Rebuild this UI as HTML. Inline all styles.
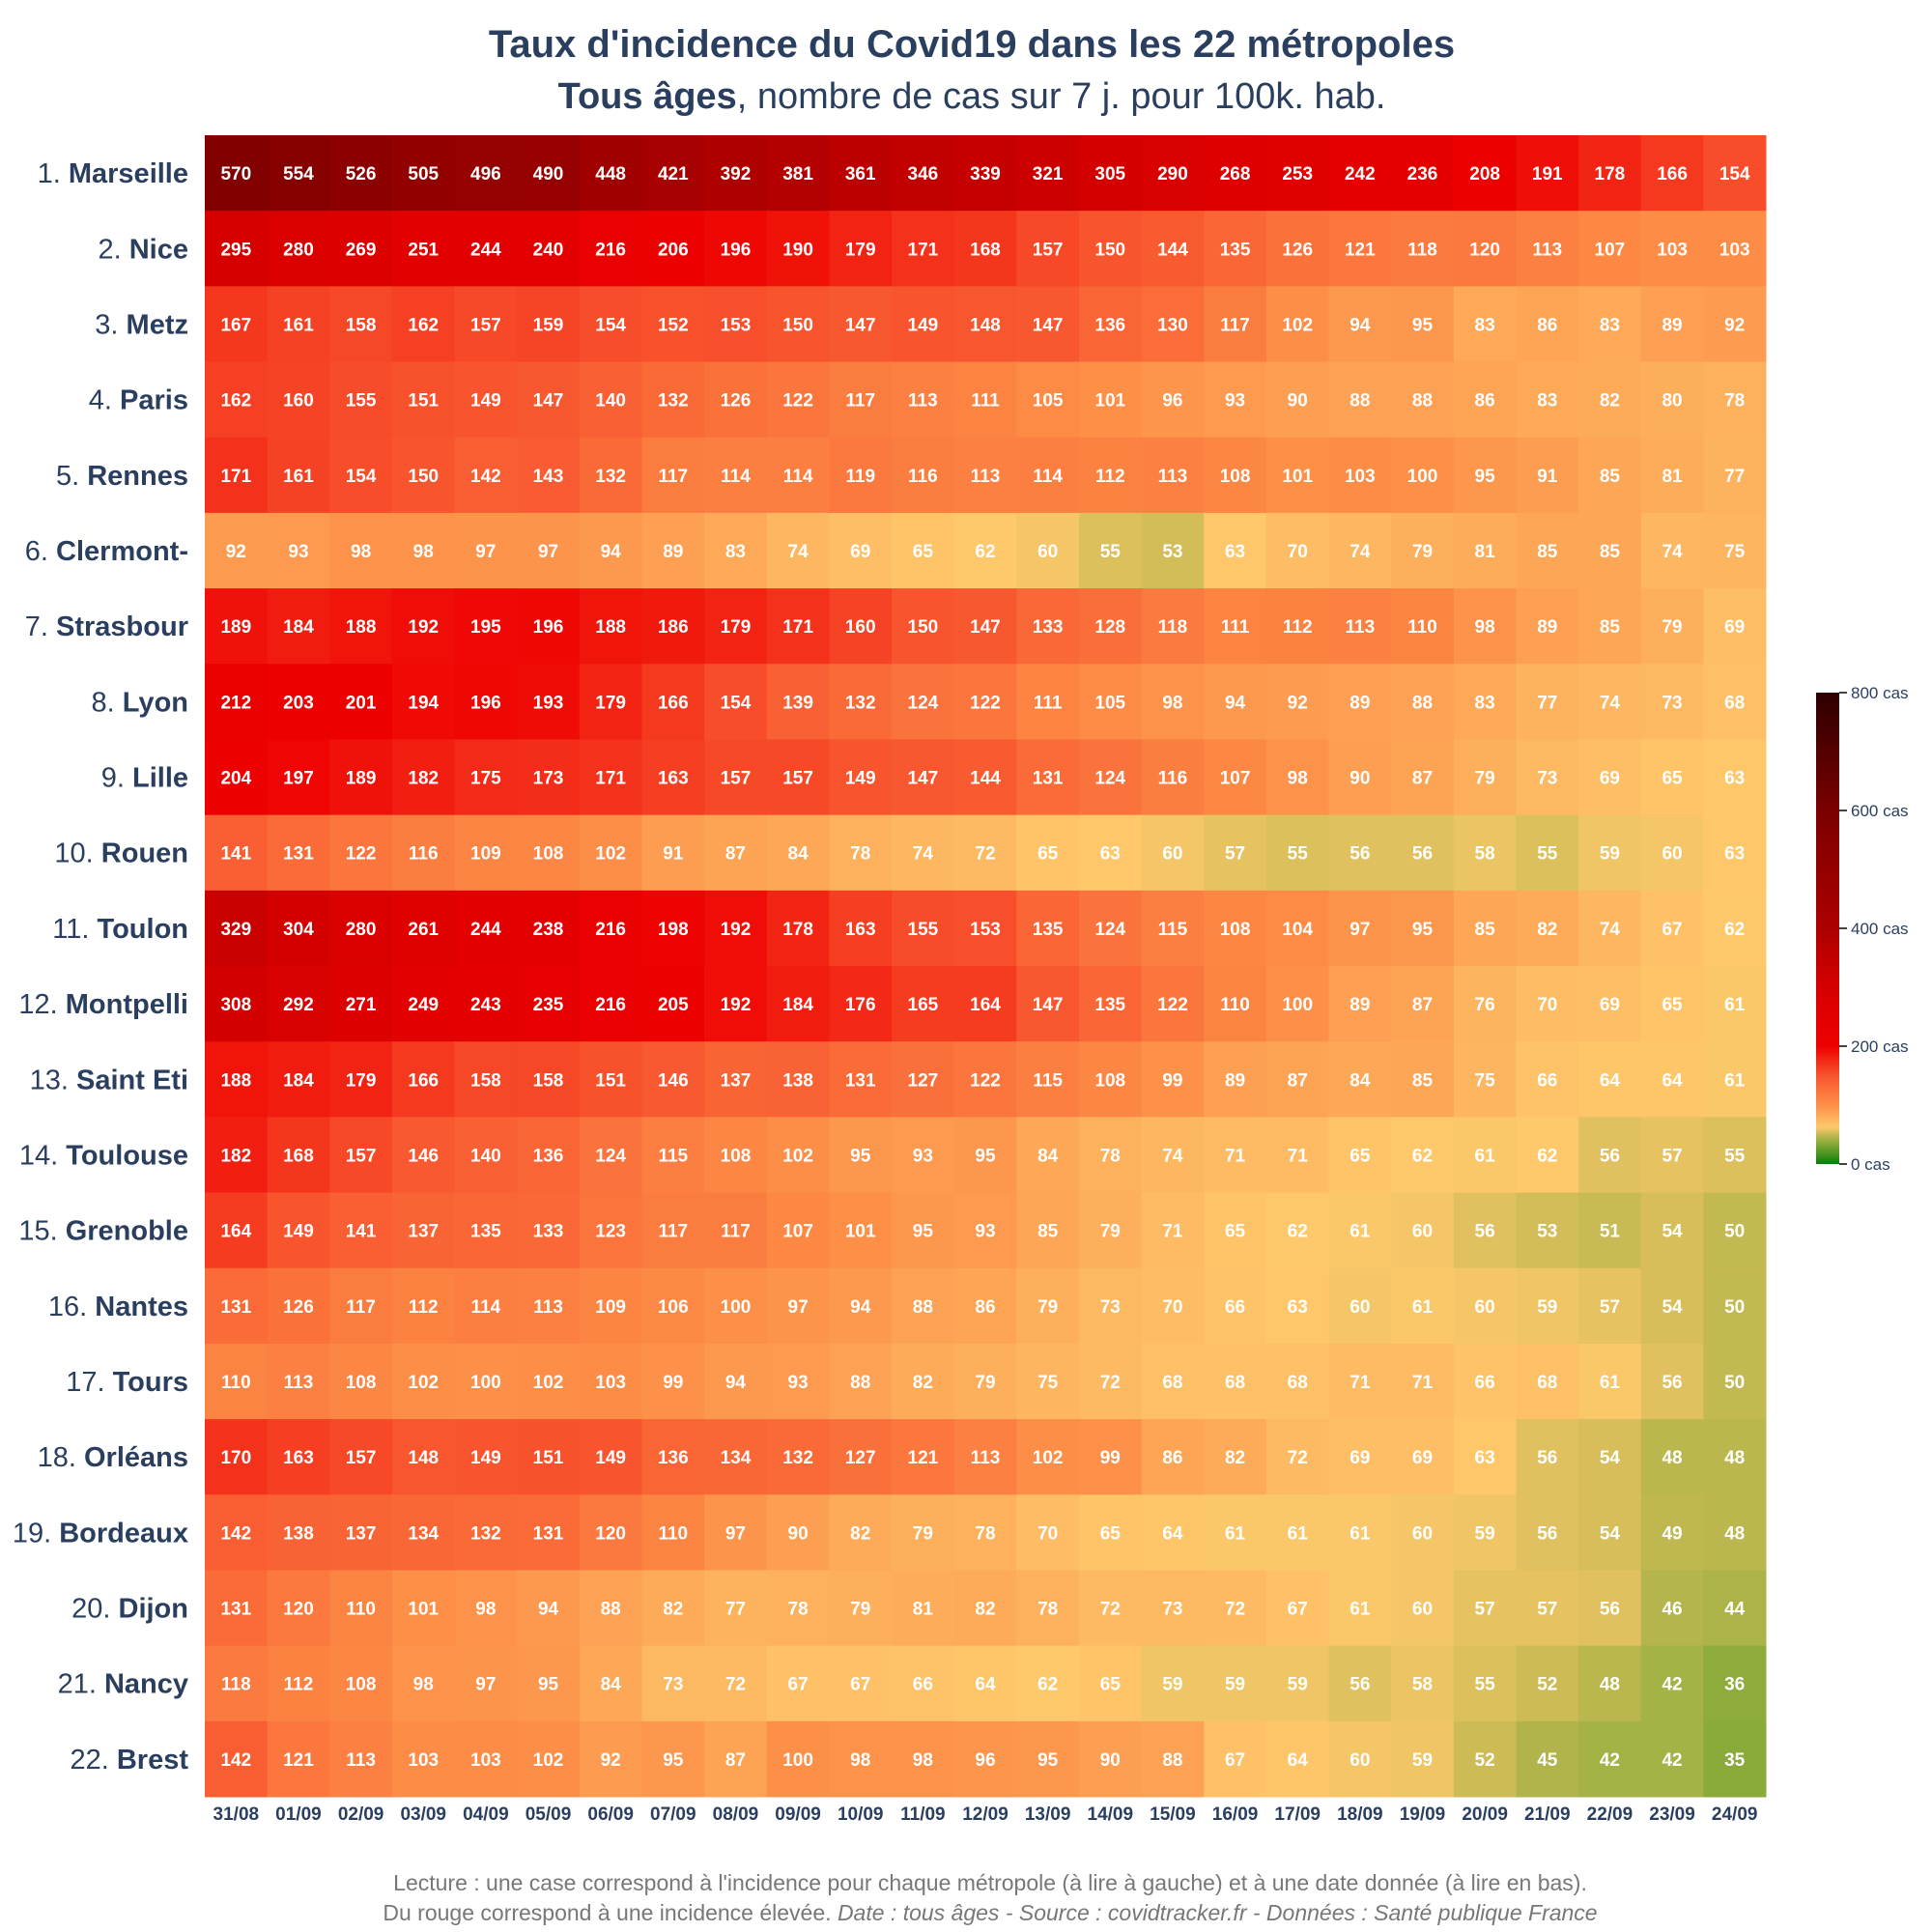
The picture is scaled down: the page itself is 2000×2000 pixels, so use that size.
<!DOCTYPE html>
<html><head><meta charset="utf-8">
<style>
html,body{margin:0;padding:0;background:#fff;}
svg{display:block;}
</style></head>
<body>
<svg id="chart" width="2000" height="2000" xmlns="http://www.w3.org/2000/svg" font-family="'Liberation Sans', sans-serif">
  <text x="1006" y="59" text-anchor="middle" font-size="40" font-weight="bold" fill="#2a3f5f">Taux d'incidence du Covid19 dans les 22 métropoles</text>
  <text x="1006" y="112" text-anchor="middle" font-size="38" fill="#2a3f5f"><tspan font-weight="bold">Tous âges</tspan>, nombre de cas sur 7 j. pour 100k. hab.</text>
  <g id="cells"></g>
  <g id="ylabels"></g>
  <g id="xlabels"></g>
  <g id="colorbar"></g>
  <text x="1025" y="1957" text-anchor="middle" font-size="23" fill="#777">Lecture : une case correspond à l'incidence pour chaque métropole (à lire à gauche) et à une date donnée (à lire en bas).</text>
  <text x="1025" y="1988" text-anchor="middle" font-size="23" fill="#777">Du rouge correspond à une incidence élevée.  <tspan font-style="italic">Date : tous âges - Source : covidtracker.fr - Données : Santé publique France</tspan></text>
</svg>
<script>
const dates = ["31/08","01/09","02/09","03/09","04/09","05/09","06/09","07/09","08/09","09/09","10/09","11/09","12/09","13/09","14/09","15/09","16/09","17/09","18/09","19/09","20/09","21/09","22/09","23/09","24/09"];
const cities = ["Marseille","Nice","Metz","Paris","Rennes","Clermont-","Strasbour","Lyon","Lille","Rouen","Toulon","Montpelli","Saint Eti","Toulouse","Grenoble","Nantes","Tours","Orléans","Bordeaux","Dijon","Nancy","Brest"];
const rMarseille=[570,554,526,505,496,490,448,421,392,381,361,346,339,321,305,290,268,253,242,236,208,191,178,166,154];
const rNice=[295,280,269,251,244,240,216,206,196,190,179,171,168,157,150,144,135,126,121,118,120,113,107,103,103];
const rMetz=[167,161,158,162,157,159,154,152,153,150,147,149,148,147,136,130,117,102,94,95,83,86,83,89,92];
const rParis=[162,160,155,151,149,147,140,132,126,122,117,113,111,105,101,96,93,90,88,88,86,83,82,80,78];
const rRennes=[171,161,154,150,142,143,132,117,114,114,119,116,113,114,112,113,108,101,103,100,95,91,85,81,77];
const rClermont=[92,93,98,98,97,97,94,89,83,74,69,65,62,60,55,53,63,70,74,79,81,85,85,74,75];
const rStrasbourg=[189,184,188,192,195,196,188,186,179,171,160,150,147,133,128,118,111,112,113,110,98,89,85,79,69];
const rLyon=[212,203,201,194,196,193,179,166,154,139,132,124,122,111,105,98,94,92,89,88,83,77,74,73,68];
const rLille=[204,197,189,182,175,173,171,163,157,157,149,147,144,131,124,116,107,98,90,87,79,73,69,65,63];
const rRouen=[141,131,122,116,109,108,102,91,87,84,78,74,72,65,63,60,57,55,56,56,58,55,59,60,63];
const rToulon=[329,304,280,261,244,238,216,198,192,178,163,155,153,135,124,115,108,104,97,95,85,82,74,67,62];
const rMontpellier=[308,292,271,249,243,235,216,205,192,184,176,165,164,147,135,122,110,100,89,87,76,70,69,65,61];
const rSaintEtienne=[188,184,179,166,158,158,151,146,137,138,131,127,122,115,108,99,89,87,84,85,75,66,64,64,61];
const rToulouse=[182,168,157,146,140,136,124,115,108,102,95,93,95,84,78,74,71,71,65,62,61,62,56,57,55];
const rGrenoble=[164,149,141,137,135,133,123,117,117,107,101,95,93,85,79,71,65,62,61,60,56,53,51,54,50];
const rNantes=[131,126,117,112,114,113,109,106,100,97,94,88,86,79,73,70,66,63,60,61,60,59,57,54,50];
const rTours=[110,113,108,102,100,102,103,99,94,93,88,82,79,75,72,68,68,68,71,71,66,68,61,56,50];
const rOrleans=[170,163,157,148,149,151,149,136,134,132,127,121,113,102,99,86,82,72,69,69,63,56,54,48,48];
const rBordeaux=[142,138,137,134,132,131,120,110,97,90,82,79,78,70,65,64,61,61,61,60,59,56,54,49,48];
const rDijon=[131,120,110,101,98,94,88,82,77,78,79,81,82,78,72,73,72,67,61,60,57,57,56,46,44];
const rNancy=[118,112,108,98,97,95,84,73,72,67,67,66,64,62,65,59,59,59,56,58,55,52,48,42,36];
const rBrest=[142,121,113,103,103,102,92,95,87,100,98,98,96,95,90,88,67,64,60,59,52,45,42,42,35];
const values=[rMarseille,rNice,rMetz,rParis,rRennes,rClermont,rStrasbourg,rLyon,rLille,rRouen,rToulon,rMontpellier,rSaintEtienne,rToulouse,rGrenoble,rNantes,rTours,rOrleans,rBordeaux,rDijon,rNancy,rBrest];
const cbTicks=[0,200,400,600,800];

const NS="http://www.w3.org/2000/svg";
const X0=212,X1=1828,Y0=140,Y1=1860;
const cw=(X1-X0)/dates.length, rh=(Y1-Y0)/cities.length;
function xPos(i){return X0+i*cw;}
function yPos(j){return Y0+j*rh;}
const stops=[[0,[10,125,10]],[35,[138,171,58]],[50,[195,185,82]],[62,[255,201,107]],[75,[253,181,96]],[100,[253,144,72]],[150,[248,84,46]],[200,[238,0,0]],[300,[214,0,0]],[400,[172,0,0]],[500,[148,0,0]],[600,[122,0,0]],[800,[44,0,0]]];
function color(v){
  if(v<=0)return 'rgb(10,125,10)';
  for(let k=1;k<stops.length;k++){
    if(v<=stops[k][0]){
      const a=stops[k-1],b=stops[k],t=(v-a[0])/(b[0]-a[0]);
      const c=a[1].map((x,i)=>Math.round(x+(b[1][i]-x)*t));
      return 'rgb('+c.join(',')+')';
    }
  }
  return 'rgb(44,0,0)';
}
const gc=document.getElementById('cells');
values.forEach((row,j)=>{
  row.forEach((v,i)=>{
    const r=document.createElementNS(NS,'rect');
    r.setAttribute('x',xPos(i));r.setAttribute('y',yPos(j));
    r.setAttribute('width',cw+0.5);r.setAttribute('height',rh+0.5);
    r.setAttribute('fill',color(v));
    
    
    gc.appendChild(r);
    const t=document.createElementNS(NS,'text');
    t.setAttribute('x',xPos(i)+cw/2);t.setAttribute('y',yPos(j)+rh/2+7);
    t.setAttribute('text-anchor','middle');t.setAttribute('font-size','19');
    t.setAttribute('font-weight','bold');t.setAttribute('fill','#fff');
    t.textContent=v;
    
    
    gc.appendChild(t);
  });
});
const gy=document.getElementById('ylabels');
cities.forEach((c,j)=>{
  const t=document.createElementNS(NS,'text');
  t.setAttribute('x',195);t.setAttribute('y',yPos(j)+rh/2+10);
  t.setAttribute('text-anchor','end');t.setAttribute('font-size','29');t.setAttribute('fill','#2a3f5f');
  const a=document.createElementNS(NS,'tspan');a.textContent=(j+1)+'. ';
  const b=document.createElementNS(NS,'tspan');b.setAttribute('font-weight','bold');b.textContent=c;
  t.appendChild(a);t.appendChild(b);
  
  
  gy.appendChild(t);
});
const gx=document.getElementById('xlabels');
dates.forEach((d,i)=>{
  const t=document.createElementNS(NS,'text');
  t.setAttribute('x',xPos(i)+cw/2);t.setAttribute('y',1884);
  t.setAttribute('text-anchor','middle');t.setAttribute('font-size','19');
  t.setAttribute('font-weight','bold');t.setAttribute('fill','#2a3f5f');
  t.textContent=d;
  
  
  gx.appendChild(t);
});
// colorbar
const cb=document.getElementById('colorbar');
const CB0=1205,CB1=717,CBmax=800;
function cbY(v){return CB0-(v/CBmax)*(CB0-CB1);}
const defs=document.createElementNS(NS,'defs');
const lg=document.createElementNS(NS,'linearGradient');
lg.setAttribute('id','cbg');lg.setAttribute('x1','0');lg.setAttribute('y1','1');lg.setAttribute('x2','0');lg.setAttribute('y2','0');
for(let v=0;v<=800;v+=5){const s=document.createElementNS(NS,'stop');s.setAttribute('offset',v/800);s.setAttribute('stop-color',color(v));lg.appendChild(s);}
defs.appendChild(lg);cb.appendChild(defs);
const bar=document.createElementNS(NS,'rect');
bar.setAttribute('x',1880);bar.setAttribute('y',CB1);bar.setAttribute('width',24);bar.setAttribute('height',CB0-CB1);bar.setAttribute('fill','url(#cbg)');


cb.appendChild(bar);
cbTicks.forEach(v=>{
  const l=document.createElementNS(NS,'line');
  l.setAttribute('x1',1904);l.setAttribute('x2',1912);l.setAttribute('y1',cbY(v));l.setAttribute('y2',cbY(v));l.setAttribute('stroke','#444');l.setAttribute('stroke-width','2');
  
  
  cb.appendChild(l);
  const t=document.createElementNS(NS,'text');
  t.setAttribute('x',1916);t.setAttribute('y',cbY(v)+6);t.setAttribute('font-size','17');t.setAttribute('fill','#2a3f5f');
  t.textContent=v+' cas';
  
  
  cb.appendChild(t);
});
</script>
</body></html>
